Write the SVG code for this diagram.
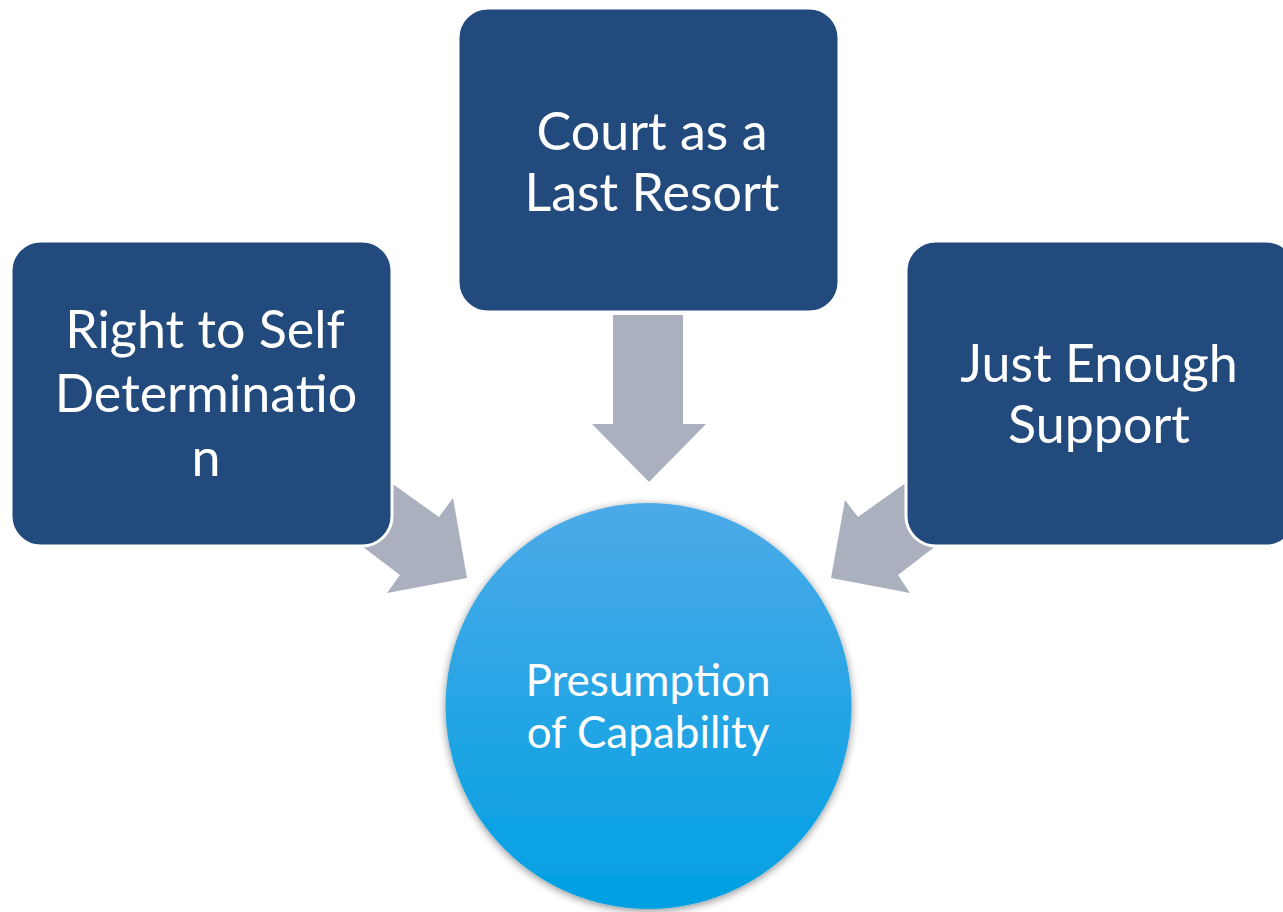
<svg xmlns="http://www.w3.org/2000/svg" width="1283" height="912" viewBox="0 0 1283 912">
<defs>
<linearGradient id="cg" x1="0" y1="0" x2="0" y2="1">
<stop offset="0" stop-color="#4DAAE8"/>
<stop offset="1" stop-color="#00A0E2"/>
</linearGradient>
<filter id="sh" x="-20%" y="-20%" width="140%" height="140%">
<feGaussianBlur in="SourceAlpha" stdDeviation="4"/>
<feOffset dx="0" dy="2"/>
<feComponentTransfer><feFuncA type="linear" slope="0.45"/></feComponentTransfer>
<feMerge><feMergeNode/><feMergeNode in="SourceGraphic"/></feMerge>
</filter>
</defs>
<style>
.box{fill:#224A7D;stroke:#ffffff;stroke-width:3}
.arr{fill:#AAB0BE}
.t{font-family:Lato,"Open Sans","Liberation Sans",sans-serif;fill:#ffffff;text-anchor:middle}
.tb{font-size:52px}
.tc{font-size:44px}
</style>
<rect width="1283" height="912" fill="#ffffff"/>
<g id="connectors">
<polygon class="arr" points="613,315 683,315 683,424 706,424 649,482 592,424 613,424"/>
<polygon class="arr" points="355,457 439,517 453,498 467,578 387,593 400,575 326,519"/>
<polygon class="arr" points="942,457 858,517 845,500 831,578 910,593 898,575 971,519"/>
</g>
<g id="node-circle">
<circle cx="648.5" cy="706" r="203" fill="url(#cg)" filter="url(#sh)"/>
<text class="t tc" x="648" y="696">Presumption</text>
<text class="t tc" x="648" y="748">of Capability</text>
</g>
<g id="node-left">
<rect class="box" x="11" y="241" width="381" height="305" rx="30"/>
<text class="t tb" x="205" y="348">Right to Self</text>
<text class="t tb" x="206" y="412">Determinatio</text>
<text class="t tb" x="206" y="476">n</text>
</g>
<g id="node-top">
<rect class="box" x="458" y="8" width="381" height="304" rx="30"/>
<text class="t tb" x="652" y="150">Court as a</text>
<text class="t tb" x="652" y="211">Last Resort</text>
</g>
<g id="node-right">
<rect class="box" x="906" y="241" width="390" height="305" rx="30"/>
<text class="t tb" x="1099" y="382">Just Enough</text>
<text class="t tb" x="1099" y="443">Support</text>
</g>
</svg>
